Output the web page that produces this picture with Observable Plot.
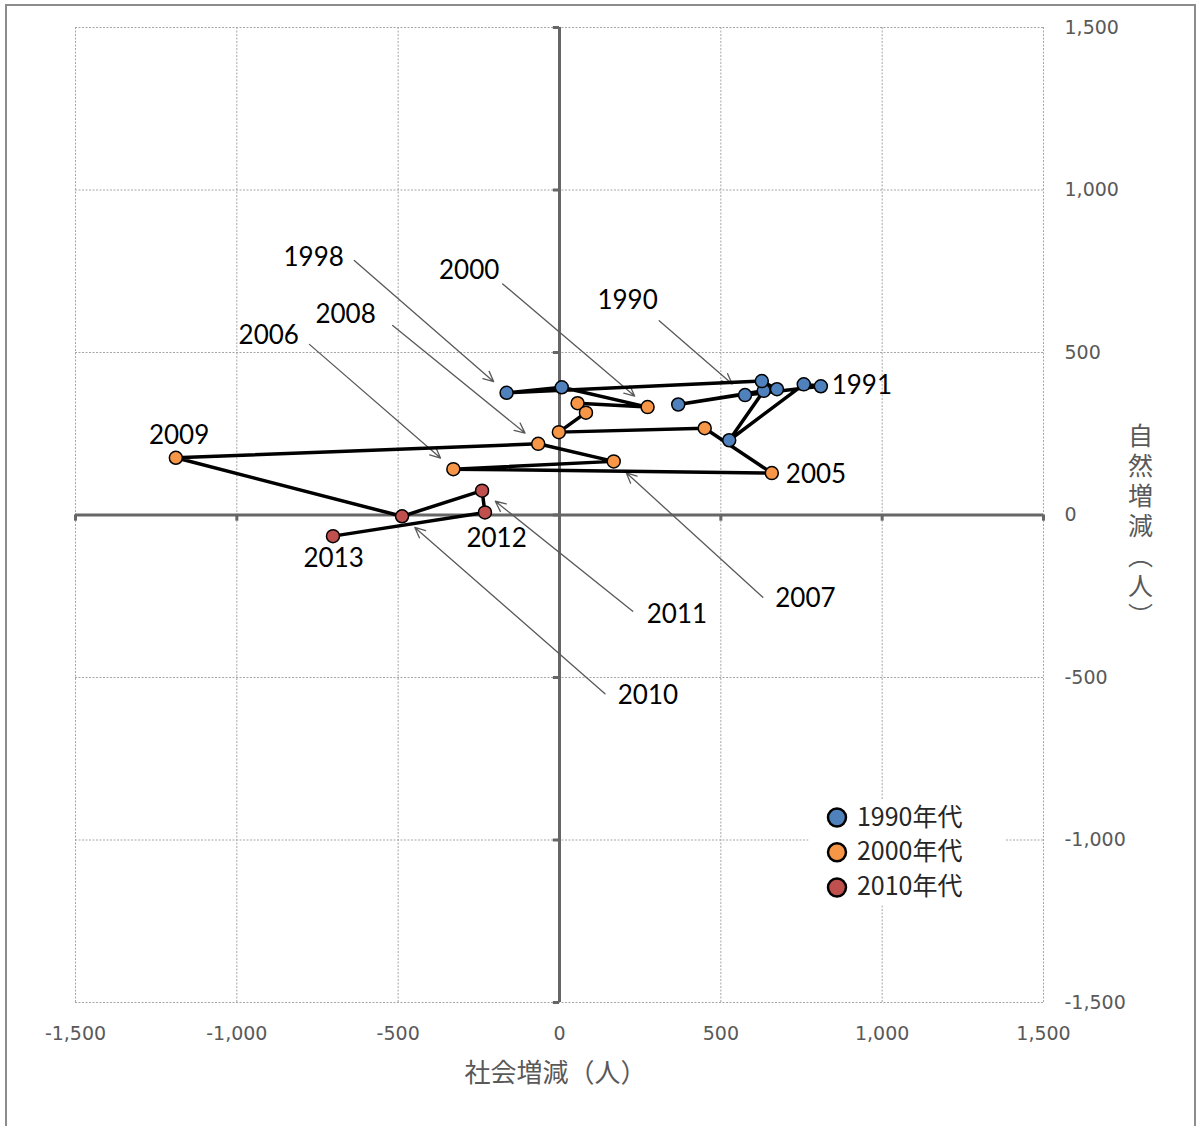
<!DOCTYPE html>
<html><head><meta charset="utf-8">
<script src="https://cdn.jsdelivr.net/npm/d3@7"></script>
<script src="https://cdn.jsdelivr.net/npm/@observablehq/plot@0.6"></script>
<style>
html,body{margin:0;padding:0;background:#fff;}
#wrap{position:relative;width:1196px;height:1126px;overflow:hidden;background:#fff;}
#border{position:absolute;left:5px;top:4px;width:1191px;height:1140px;border:2px solid #8c8c8c;box-sizing:border-box;pointer-events:none;}
#chart svg{display:block;}
</style></head><body><div id="wrap"><div id="chart"></div><div id="border"></div></div>
<script>
// ---- data ----
const years = [1990,1991,1992,1993,1994,1995,1996,1997,1998,1999,2000,2001,2002,2003,2004,2005,2006,2007,2008,2009,2010,2011,2012,2013];
const socialChange  = [575, 810, 757, 526, 633, 368, 674, 627, -164, 7, 273, 56, 82, -2, 450, 658, -329, 168, -66, -1189, -488, -240, -231, -702];
const naturalChange = [369, 396, 402, 230, 382, 340, 387, 412, 376, 393, 332, 344, 315, 255, 267, 129, 141, 165, 219, 176, -4, 75, 8, -65];

const decadeLabels = ["1990年代", "2000年代", "2010年代"];
const decadeColors = ["#4F81BD", "#F79646", "#C0504D"];

const tickValues = [-1500, -1000, -500, 0, 500, 1000, 1500];
const xTickLabels = ["-1,500", "-1,000", "-500", "0", "500", "1,000", "1,500"];
const yTickLabels = ["-1,500", "-1,000", "-500", "0", "500", "1,000", "1,500"];

const xTitle = "社会増減（人）";
const yTitle = "自然増減（人）";

// year labels (positions in data units)
const labelYears = [1990, 1991, 1998, 2000, 2005, 2006, 2007, 2008, 2009, 2010, 2011, 2012, 2013];
const labelX = [211, 937, -762, -280, 795, -901, 762, -663, -1179, 274, 364, -195, -700];
const labelY = [660, 398, 792, 752, 125, 552, -258, 617, 245, -555, -307, -72, -134];

// leader arrows: start points in data units, end at the year's point
const arrowYears = [1990, 1998, 2000, 2006, 2007, 2008, 2010, 2011];
const arrowStartX = [309, -636, -176, -775, 630, -517, 141, 227];
const arrowStartY = [598, 783, 711, 525, -253, 583, -550, -296];

// legend layout (data units)
const legendBox = {x1: 773, x2: 1381, y1: -878, y2: -1202};
const legendMarkerX = 860;
const legendTextX = 922;
const legendRowY = [-931, -1038, -1146];

// ---- build ----
const idx = new Map(years.map((y, i) => [y, i]));
const points = years.map((yr, i) => ({
  year: yr, social: socialChange[i], natural: naturalChange[i],
  decade: `${Math.floor(yr / 10) * 10}年代`
}));
const annotations = labelYears.map((yr, i) => ({year: yr, lx: labelX[i], ly: labelY[i]}));
const arrows = arrowYears.map((yr, i) => ({
  sx: arrowStartX[i], sy: arrowStartY[i],
  ex: socialChange[idx.get(yr)], ey: naturalChange[idx.get(yr)]
}));
const legendItems = decadeLabels.map((d, i) => ({decade: d, y: legendRowY[i]}));
const gridValues = tickValues.filter(v => v !== 0);
const tickFont = "'DejaVu Sans', sans-serif";
const cjkFont = "'Noto Sans CJK JP', sans-serif";

const chart = Plot.plot({
  width: 1196, height: 1126,
  marginLeft: 75, marginRight: 153, marginTop: 27, marginBottom: 124,
  x: {domain: [-1500, 1500], axis: null},
  y: {domain: [-1500, 1500], axis: null},
  color: {domain: decadeLabels, range: decadeColors},
  style: {background: "transparent", overflow: "visible"},
  marks: [
    // dotted gridlines
    Plot.ruleX(gridValues, {stroke: "#a6a6a6", strokeWidth: 1, strokeDasharray: "2,1.5"}),
    Plot.ruleY(gridValues, {stroke: "#a6a6a6", strokeWidth: 1, strokeDasharray: "2,1.5"}),
    // crossing axes
    Plot.ruleX([0], {stroke: "#666", strokeWidth: 3}),
    Plot.ruleY([0], {stroke: "#666", strokeWidth: 3}),
    // tick marks on axes
    Plot.ruleX(tickValues, {x: d => d, y1: () => 0, y2: () => -19, stroke: "#666", strokeWidth: 3}),
    Plot.ruleY(tickValues, {y: d => d, x1: () => -19, x2: () => 0, stroke: "#666", strokeWidth: 3}),
    // tick labels
    Plot.text(tickValues, {x: d => d, y: () => -1500, dy: 31, text: (d, i) => xTickLabels[i],
      fontFamily: tickFont, fontSize: 19, fill: "#595959"}),
    Plot.text(tickValues, {x: () => 1500, y: d => d, dx: 21, textAnchor: "start", text: (d, i) => yTickLabels[i],
      fontFamily: tickFont, fontSize: 19, fill: "#595959"}),
    // axis titles
    Plot.text([xTitle], {frameAnchor: "bottom", dy: 79, dx: -4, text: d => d,
      fontFamily: cjkFont, fontSize: 26, fill: "#595959"}),
    Plot.text([yTitle], {frameAnchor: "right", dx: 97, textAnchor: "middle", text: d => d,
      fontFamily: cjkFont, fontSize: 25, fill: "#595959"}),
    // leader arrows
    Plot.arrow(arrows, {x1: "sx", y1: "sy", x2: "ex", y2: "ey", stroke: "#595959", strokeWidth: 1.3,
      headLength: 13, headAngle: 50, insetEnd: 17}),
    // path
    Plot.line(points, {x: "social", y: "natural", stroke: "black", strokeWidth: 3.5}),
    Plot.dot(points, {x: "social", y: "natural", fill: "decade", stroke: "black", strokeWidth: 1.5, r: 6.5}),
    // year labels
    Plot.text(annotations, {x: "lx", y: "ly", text: d => String(d.year),
      fontFamily: "Lato, 'Open Sans', sans-serif", fontSize: 26, fill: "black"}),
    // legend
    Plot.rect([legendBox], {x1: "x1", x2: "x2", y1: "y1", y2: "y2", fill: "white"}),
    Plot.dot(legendItems, {x: () => legendMarkerX, y: "y", fill: "decade", stroke: "black", strokeWidth: 2.5, r: 9}),
    Plot.text(legendItems, {x: () => legendTextX, y: "y", text: "decade", textAnchor: "start",
      fontFamily: cjkFont, fontSize: 25, fill: "#262626"})
  ]
});

// vertical (upright) y-axis title
chart.querySelectorAll("text").forEach(t => {
  if (t.textContent === yTitle) {
    t.style.writingMode = "vertical-rl";
    t.style.letterSpacing = "5px";
    t.setAttribute("dy", "5");
    t.querySelectorAll("tspan").forEach(s => s.removeAttribute("dy"));
  }
});

document.getElementById("chart").appendChild(chart);
</script></body></html>
